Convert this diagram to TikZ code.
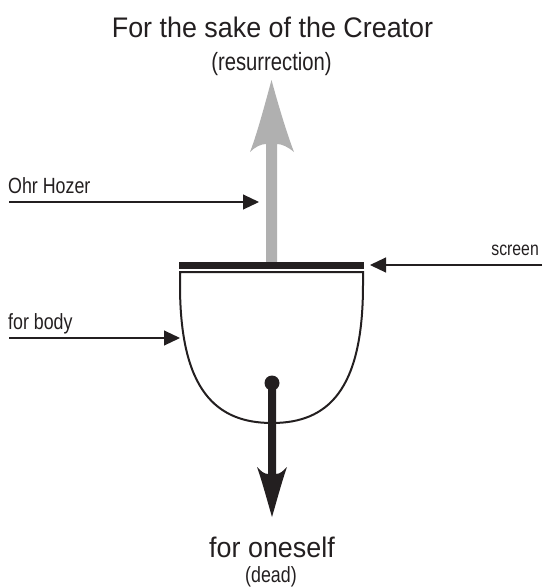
\documentclass[tikz,border=0pt]{standalone}
\usepackage{fontspec}
\setmainfont{Liberation Sans}
\newfontfamily\ttlfont[FakeStretch=0.95]{Liberation Sans}
\newfontfamily\labfont[FakeStretch=0.81]{Liberation Sans}
\usetikzlibrary{arrows.meta}
\definecolor{lightgrey}{HTML}{B0B0B0}
\definecolor{ink}{HTML}{231F20}
\tikzset{
  pointer/.style={draw=ink, line width=1.1pt, -{Triangle[length=16pt,width=15pt]}},
  bigtext/.style={inner sep=0pt, anchor=base, font=\ttlfont\fontsize{28.3}{30}\selectfont, text=ink},
  subtext/.style={inner sep=0pt, anchor=base, font=\labfont\fontsize{25}{27}\selectfont, text=ink},
  labtext/.style={inner sep=0pt, font=\labfont\fontsize{22}{24}\selectfont, text=ink},
}
\begin{document}
\begin{tikzpicture}[x=1pt,y=-1pt]
\useasboundingbox (0,0) rectangle (549,587);
% texts
\node[bigtext] (title) at (272.5,37) {For the sake of the Creator};
\node[subtext] (res) at (271.5,70) {(resurrection)};
\node[bigtext] (self) at (272,557) {for oneself};
\node[subtext, font=\labfont\fontsize{22}{24}\selectfont] (dead) at (271,582) {(dead)};
\node[labtext, anchor=base west] (ohr) at (8,193) {Ohr Hozer};
\node[labtext, anchor=base west] (body) at (8,329) {for body};
\node[labtext, anchor=base east, font=\labfont\fontsize{19.5}{21}\selectfont] (scr) at (539,255) {screen};
% coordinates
\coordinate (ohrS) at (9,202);
\coordinate (ohrE) at (259,202);
\coordinate (bodyS) at (9,338);
\coordinate (bodyE) at (180,338);
\coordinate (scrS) at (542,265);
\coordinate (scrE) at (370,265);
\coordinate (upTip) at (271.5,80);
\coordinate (dot) at (272,383);
\coordinate (downTip) at (272,517);
% gray upward arrow
\fill[lightgrey] (upTip) .. controls (265,104) and (257,134) .. (250,152)
   .. controls (255,147) and (261,144) .. (266,144) -- (266,262) -- (277,262) -- (277,144)
   .. controls (282,144) and (288,147) .. (294,152)
   .. controls (287,134) and (278,104) .. (upTip) -- cycle;
% screen
\draw[ink, line width=6.5pt] (179,265.5) -- (364,265.5);
% bowl
\draw[ink, line width=2pt, line join=miter] (180,272) -- (363,272) -- (363,285)
   .. controls (363,390) and (328,423) .. (272,423)
   .. controls (216,423) and (180,390) .. (180,285) -- cycle;
% black downward arrow
\fill[ink] (dot) circle (7.5);
\fill[ink] (downTip) .. controls (267,500) and (262,481) .. (257,467)
   .. controls (261,471) and (264,474) .. (268,474) -- (268,383) -- (276,383) -- (276,474)
   .. controls (280,474) and (283,471) .. (287,467)
   .. controls (282,481) and (277,500) .. (downTip) -- cycle;
% pointers
\draw[pointer] (ohrS) -- (ohrE);
\draw[pointer] (bodyS) -- (bodyE);
\draw[pointer] (scrS) -- (scrE);
\end{tikzpicture}
\end{document}
